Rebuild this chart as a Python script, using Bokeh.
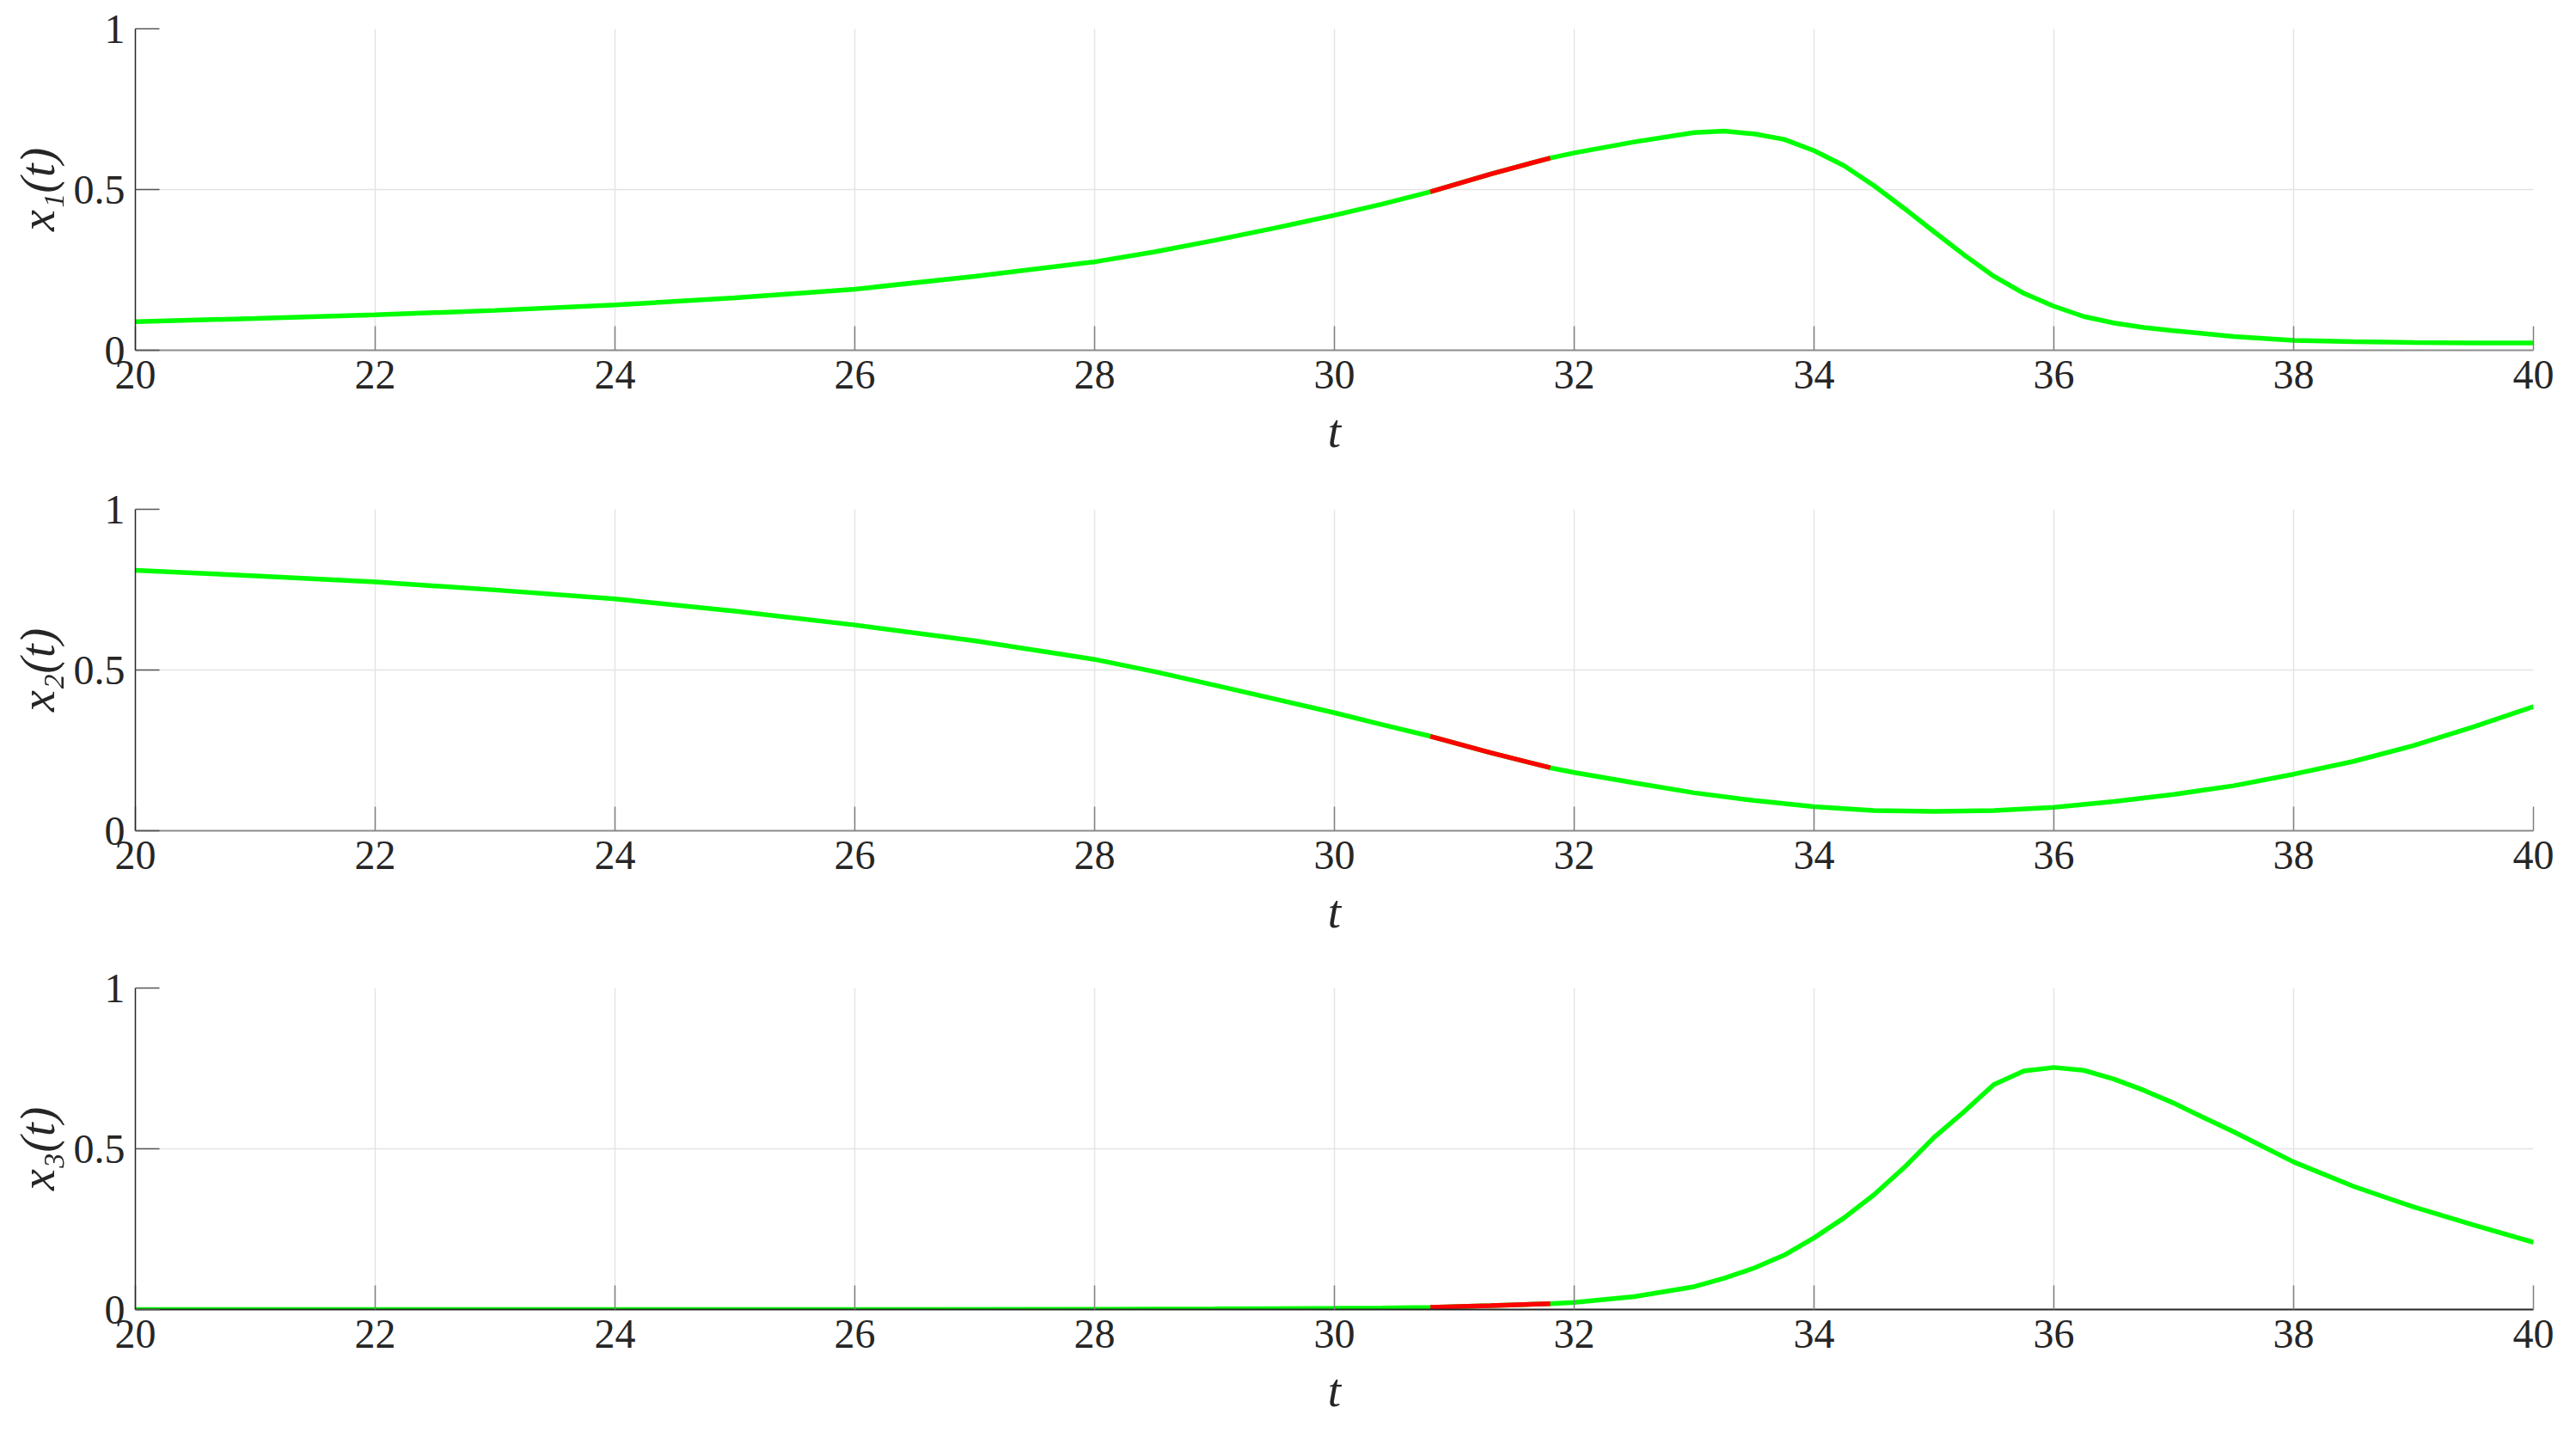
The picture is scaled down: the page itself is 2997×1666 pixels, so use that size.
from bokeh.plotting import figure
from bokeh.layouts import column
from bokeh.models import Range1d, FixedTicker
from bokeh.embed import file_html
from bokeh.resources import INLINE

# ---- data ----
t1 = [20, 21, 22, 23, 24, 25, 26, 27, 28, 28.5, 29, 29.5, 30, 30.4, 30.8, 31.3, 31.8,
      32, 32.5, 33, 33.25, 33.5, 33.75, 34, 34.25, 34.5, 34.75, 35, 35.25, 35.5, 35.75,
      36, 36.25, 36.5, 36.75, 37, 37.5, 38, 38.5, 39, 39.5, 40]
x1 = [0.089, 0.099, 0.110, 0.124, 0.141, 0.163, 0.190, 0.230, 0.275, 0.306, 0.342, 0.380,
      0.420, 0.455, 0.493, 0.548, 0.598, 0.614, 0.648, 0.677, 0.682, 0.673, 0.656, 0.621,
      0.574, 0.512, 0.442, 0.369, 0.297, 0.230, 0.177, 0.137, 0.105, 0.085, 0.071, 0.061,
      0.043, 0.031, 0.027, 0.024, 0.023, 0.023]

t2 = [20, 21, 22, 23, 24, 25, 26, 27, 28, 28.5, 29, 29.5, 30, 30.4, 30.8, 31.3, 31.8,
      32, 32.5, 33, 33.5, 34, 34.5, 35, 35.5, 36, 36.5, 37, 37.5, 38, 38.5, 39, 39.5, 40]
x2 = [0.810, 0.793, 0.774, 0.749, 0.721, 0.683, 0.640, 0.591, 0.533, 0.495, 0.453, 0.410,
      0.367, 0.330, 0.294, 0.243, 0.196, 0.181, 0.149, 0.118, 0.094, 0.075, 0.063, 0.060,
      0.063, 0.073, 0.091, 0.113, 0.140, 0.176, 0.216, 0.265, 0.323, 0.386]

t3 = [20, 22, 24, 26, 28, 29, 29.5, 30, 30.4, 30.8, 31.3, 31.8, 32, 32.5, 33, 33.25, 33.5,
      33.75, 34, 34.25, 34.5, 34.75, 35, 35.25, 35.5, 35.75, 36, 36.25, 36.5, 36.75, 37,
      37.25, 37.5, 38, 38.5, 39, 39.5, 40]
x3 = [0.000, 0.000, 0.000, 0.000, 0.001, 0.002, 0.003, 0.004, 0.005, 0.007, 0.012, 0.018,
      0.022, 0.040, 0.071, 0.097, 0.129, 0.169, 0.223, 0.285, 0.357, 0.441, 0.535, 0.615,
      0.700, 0.742, 0.753, 0.744, 0.717, 0.682, 0.642, 0.597, 0.553, 0.459, 0.383, 0.319,
      0.263, 0.209]

red_start, red_end = 30.8, 31.8

x_ticks = [20, 22, 24, 26, 28, 30, 32, 34, 36, 38, 40]
y_ticks = [0, 0.5, 1]
y_tick_labels = ["0", "0.5", "1"]
y_labels = ["x\u2081(t)", "x\u2082(t)", "x\u2083(t)"]
x_label = "t"

FONT = "Liberation Serif"
GREEN = "#00ff00"
RED = "#ff0000"


def make_panel(tt, y, ylabel, top, bottom, dark_bottom=False):
    p = figure(frame_width=2790, frame_height=374,
               min_border_left=157, min_border_right=40,
               min_border_top=top, min_border_bottom=bottom,
               x_range=Range1d(20, 40), y_range=Range1d(0, 1),
               output_backend="svg", toolbar_location=None,
               background_fill_color="white", border_fill_color="white")
    p.outline_line_color = None

    p.xgrid.ticker = FixedTicker(ticks=x_ticks)
    p.ygrid.ticker = FixedTicker(ticks=y_ticks)
    for g in (p.xgrid, p.ygrid):
        g.grid_line_color = "#e4e4e4"
        g.grid_line_width = 1.5

    xa = p.xaxis[0]
    xa.ticker = FixedTicker(ticks=x_ticks)
    xa.axis_line_color = "#262626" if dark_bottom else "#8c8c8c"
    xa.axis_line_width = 2
    xa.major_tick_in = 28
    xa.major_tick_out = 0
    xa.major_tick_line_color = "#808080"
    xa.major_tick_line_width = 1.5
    xa.minor_tick_line_color = None
    xa.major_label_text_font = FONT
    xa.major_label_text_font_size = "48px"
    xa.major_label_text_color = "#262626"
    xa.major_label_standoff = 12
    xa.axis_label = x_label
    xa.axis_label_text_font = FONT
    xa.axis_label_text_font_style = "italic"
    xa.axis_label_text_font_size = "55px"
    xa.axis_label_text_color = "#262626"
    xa.axis_label_standoff = 16

    ya = p.yaxis[0]
    ya.ticker = FixedTicker(ticks=y_ticks)
    ya.major_label_overrides = {v: s for v, s in zip(y_ticks, y_tick_labels)}
    ya.axis_line_color = "#262626"
    ya.axis_line_width = 1.5
    ya.major_tick_in = 28
    ya.major_tick_out = 0
    ya.major_tick_line_color = "#555555"
    ya.major_tick_line_width = 1.5
    ya.minor_tick_line_color = None
    ya.major_label_text_font = FONT
    ya.major_label_text_font_size = "48px"
    ya.major_label_text_color = "#262626"
    ya.major_label_standoff = 12
    ya.axis_label = ylabel
    ya.axis_label_text_font = FONT
    ya.axis_label_text_font_style = "italic"
    ya.axis_label_text_font_size = "56px"
    ya.axis_label_text_color = "#262626"
    ya.axis_label_standoff = 8

    p.line(tt, y, line_color=GREEN, line_width=5.5)
    idx = [i for i, tv in enumerate(tt) if red_start <= tv <= red_end]
    p.line([tt[i] for i in idx], [y[i] for i in idx], line_color=RED, line_width=5.5)
    return p


panels = [make_panel(t1, x1, y_labels[0], 33, 160),
          make_panel(t2, x2, y_labels[1], 25, 158),
          make_panel(t3, x3, y_labels[2], 25, 125, dark_bottom=True)]
layout = column(*panels, spacing=0)

open("out.html", "w").write(file_html(layout, INLINE))
